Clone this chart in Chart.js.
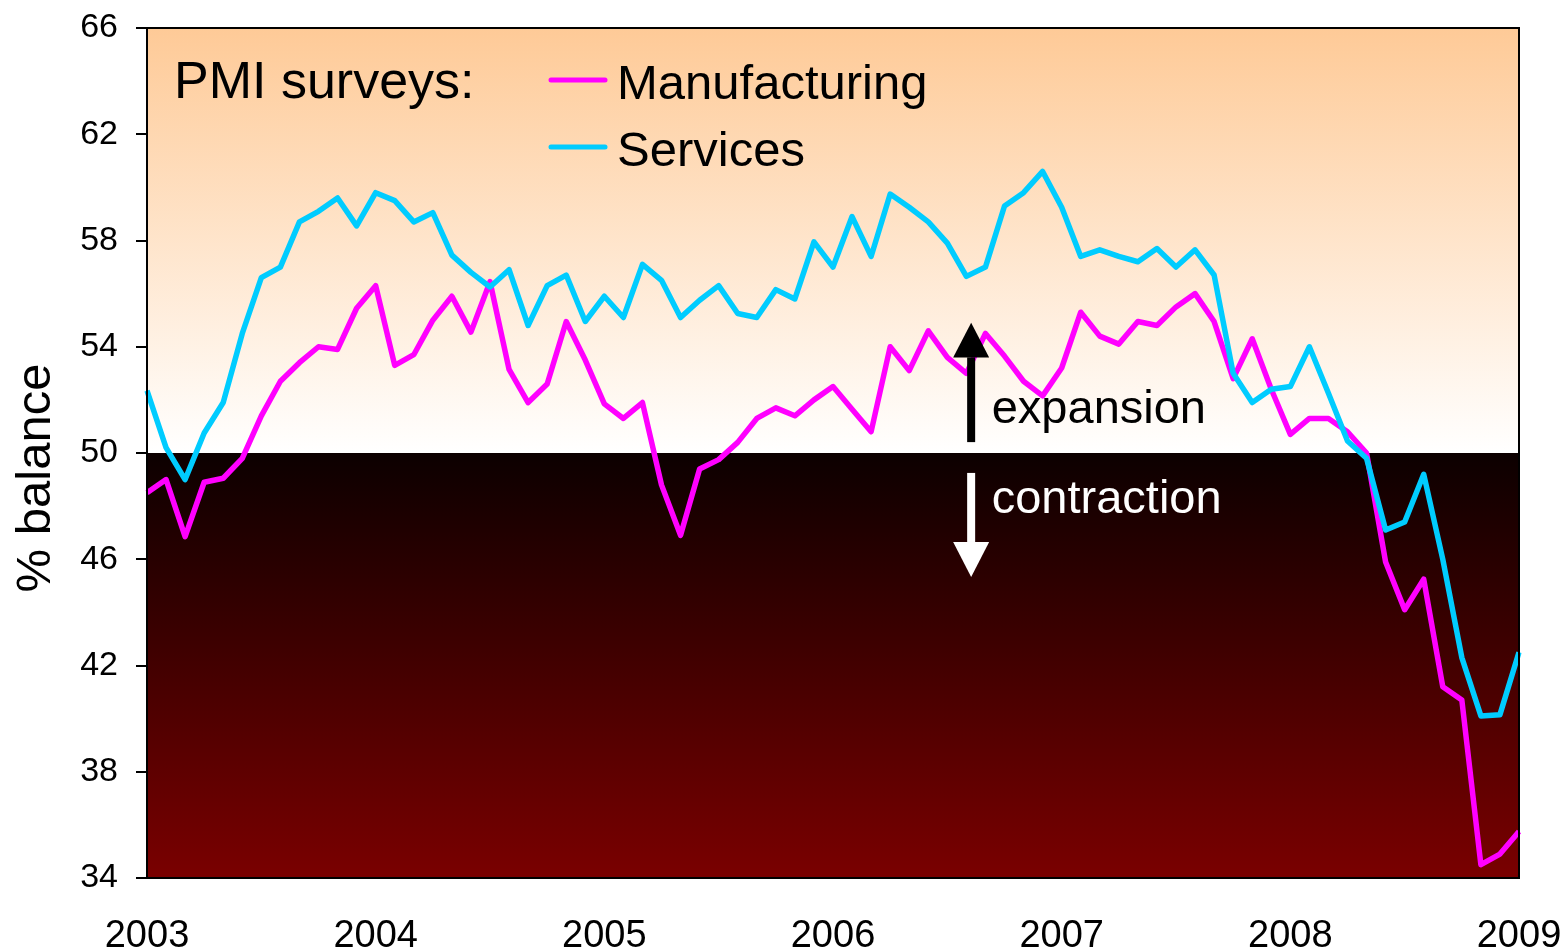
<!DOCTYPE html>
<html>
<head>
<meta charset="utf-8">
<title>PMI surveys</title>
<script src="https://cdn.jsdelivr.net/npm/chart.js@4.4.1/dist/chart.umd.min.js"></script>
<style>
  html, body { margin: 0; padding: 0; background: #fff; }
  #wrap { width: 1565px; height: 952px; }
</style>
</head>
<body>
<div id="wrap"><canvas id="pmi-chart" width="1565" height="952"></canvas></div>
<script>
// monthly categories, Jan 2003 - Jan 2009
const months = [
  '2003-01','2003-02','2003-03','2003-04','2003-05','2003-06','2003-07','2003-08','2003-09','2003-10','2003-11','2003-12',
  '2004-01','2004-02','2004-03','2004-04','2004-05','2004-06','2004-07','2004-08','2004-09','2004-10','2004-11','2004-12',
  '2005-01','2005-02','2005-03','2005-04','2005-05','2005-06','2005-07','2005-08','2005-09','2005-10','2005-11','2005-12',
  '2006-01','2006-02','2006-03','2006-04','2006-05','2006-06','2006-07','2006-08','2006-09','2006-10','2006-11','2006-12',
  '2007-01','2007-02','2007-03','2007-04','2007-05','2007-06','2007-07','2007-08','2007-09','2007-10','2007-11','2007-12',
  '2008-01','2008-02','2008-03','2008-04','2008-05','2008-06','2008-07','2008-08','2008-09','2008-10','2008-11','2008-12',
  '2009-01'
];

const manufacturing = [
  48.5, 49.0, 46.85, 48.9, 49.05, 49.8, 51.4, 52.7, 53.4, 54.0, 53.9, 55.45,
  56.3, 53.3, 53.7, 55.0, 55.9, 54.55, 56.45, 53.15, 51.9, 52.6, 54.95, 53.5,
  51.85, 51.3, 51.9, 48.8, 46.9, 49.4, 49.75, 50.4, 51.3, 51.7, 51.4, 52.0,
  52.5, 51.65, 50.8, 54.0, 53.1, 54.6, 53.6, 53.0, 54.5, 53.65, 52.7, 52.15,
  53.2, 55.3, 54.4, 54.1, 54.95, 54.8, 55.5, 56.0, 54.95, 52.8, 54.3, 52.4,
  50.7, 51.3, 51.3, 50.8, 50.0, 45.9, 44.1, 45.25, 41.2, 40.7, 34.5, 34.9,
  35.75
];

const services = [
  52.35, 50.2, 49.0, 50.75, 51.9, 54.5, 56.6, 57.0, 58.7, 59.1, 59.6, 58.55,
  59.8, 59.5, 58.7, 59.05, 57.45, 56.8, 56.25, 56.9, 54.8, 56.3, 56.7, 54.95,
  55.9, 55.1, 57.1, 56.5, 55.1, 55.75, 56.3, 55.25, 55.1, 56.15, 55.8, 57.95,
  57.0, 58.9, 57.4, 59.75, 59.25, 58.7, 57.9, 56.65, 57.0, 59.3, 59.8, 60.6,
  59.25, 57.4, 57.65, 57.4, 57.2, 57.7, 57.0, 57.65, 56.7, 53.0, 51.9, 52.4,
  52.5, 54.0, 52.25, 50.45, 49.8, 47.1, 47.4, 49.2, 46.0, 42.3, 40.1, 40.15,
  42.5
];

const yTicks = [34, 38, 42, 46, 50, 54, 58, 62, 66];
const threshold = 50;

const FONT = '"Liberation Sans", Arial, Helvetica, sans-serif';

// 背景：50以上扩张（浅橙渐变），50以下收缩（深红渐变）
const zonesPlugin = {
  id: 'zones',
  beforeDraw(chart) {
    const { ctx, chartArea: a, scales: { y } } = chart;
    const yMid = y.getPixelForValue(threshold);
    ctx.save();
    let g = ctx.createLinearGradient(0, a.top, 0, yMid);
    g.addColorStop(0, '#FECA97');
    g.addColorStop(1, '#FFFFFF');
    ctx.fillStyle = g;
    ctx.fillRect(a.left, a.top, a.right - a.left, yMid - a.top);
    g = ctx.createLinearGradient(0, yMid, 0, a.bottom);
    g.addColorStop(0, '#0C0000');
    g.addColorStop(1, '#7A0000');
    ctx.fillStyle = g;
    ctx.fillRect(a.left, yMid, a.right - a.left, a.bottom - yMid);
    ctx.restore();
  },
  afterDatasetsDraw(chart) {
    const { ctx, chartArea: a } = chart;
    ctx.save();
    ctx.strokeStyle = '#000';
    ctx.lineWidth = 2;
    ctx.strokeRect(a.left, a.top, a.right - a.left, a.bottom - a.top);
    ctx.restore();
  }
};

// 注释：箭头和文字
const notesPlugin = {
  id: 'notes',
  afterDatasetsDraw(chart) {
    const { ctx, scales: { x, y } } = chart;
    const ax = x.getPixelForValue(43.25);
    ctx.save();

    function arrow(fromV, baseV, tipV, color) {
      const y0 = y.getPixelForValue(fromV);
      const yb = y.getPixelForValue(baseV);
      const yt = y.getPixelForValue(tipV);
      ctx.fillStyle = color;
      ctx.fillRect(ax - 4, Math.min(y0, yb), 8, Math.abs(yb - y0));
      ctx.beginPath();
      ctx.moveTo(ax - 18, yb);
      ctx.lineTo(ax + 18, yb);
      ctx.lineTo(ax, yt);
      ctx.closePath();
      ctx.fill();
    }
    arrow(50.41, 53.6, 54.9, '#000');
    arrow(49.25, 46.65, 45.33, '#fff');

    ctx.font = '47px ' + FONT;
    ctx.textAlign = 'left';
    ctx.textBaseline = 'alphabetic';
    const tx = x.getPixelForValue(44.33);
    ctx.fillStyle = '#000';
    ctx.fillText('expansion', tx, y.getPixelForValue(51.13));
    ctx.fillStyle = '#fff';
    ctx.fillText('contraction', tx, y.getPixelForValue(47.74));
    ctx.restore();
  }
};

// 图例和标题（画在图表区域内）
const legendPlugin = {
  id: 'insideLegend',
  afterDatasetsDraw(chart) {
    const { ctx, chartArea: a } = chart;
    ctx.save();
    ctx.fillStyle = '#000';
    ctx.textAlign = 'left';
    ctx.textBaseline = 'alphabetic';
    ctx.font = '52px ' + FONT;
    ctx.fillText('PMI surveys:', a.left + 27, a.top + 70);

    ctx.font = '49px ' + FONT;
    const rows = [0, 1];
    rows.forEach(i => {
      const ds = chart.data.datasets[i];
      const cy = a.top + 52 + i * 67;
      ctx.strokeStyle = ds.borderColor;
      ctx.lineWidth = 5;
      ctx.lineCap = 'round';
      ctx.beginPath();
      ctx.moveTo(a.left + 404, cy);
      ctx.lineTo(a.left + 458, cy);
      ctx.stroke();
      ctx.fillStyle = '#000';
      ctx.fillText(ds.label, a.left + 470, cy + 19);
    });

    // y 轴标题
    ctx.translate(36, 478);
    ctx.rotate(-Math.PI / 2);
    ctx.textAlign = 'center';
    ctx.textBaseline = 'middle';
    ctx.font = '49px ' + FONT;
    ctx.fillText('% balance', 0, 0);
    ctx.restore();
  }
};

const ctx = document.getElementById('pmi-chart').getContext('2d');
new Chart(ctx, {
  type: 'line',
  data: {
    labels: months,
    datasets: [{
      label: 'Manufacturing',
      data: manufacturing,
      borderColor: '#FF00FF',
      borderWidth: 5.5,
      pointRadius: 0,
      tension: 0,
      fill: false,
      borderJoinStyle: 'round',
      order: 1
    }, {
      label: 'Services',
      data: services,
      borderColor: '#00CCFF',
      borderWidth: 5.5,
      pointRadius: 0,
      tension: 0,
      fill: false,
      borderJoinStyle: 'round',
      order: 0
    }]
  },
  options: {
    responsive: false,
    animation: false,
    devicePixelRatio: 1,
    layout: {
      padding: { top: 28, right: 46, left: 0, bottom: 0 }
    },
    plugins: {
      legend: { display: false },
      tooltip: { enabled: false },
      title: { display: false }
    },
    scales: {
      x: {
        offset: false,
        grid: { display: false, drawTicks: false },
        border: { display: false },
        ticks: {
          autoSkip: false,
          maxRotation: 0,
          padding: 36,
          color: '#000',
          font: { family: FONT, size: 38 },
          callback: function(value, index) {
            const label = this.getLabelForValue(value);
            return label.endsWith('-01') ? label.slice(0, 4) : null;
          }
        },
        afterFit(scale) {
          scale.height = 74;
          scale.paddingLeft = 0;
          scale.paddingRight = 0;
        }
      },
      y: {
        min: yTicks[0],
        max: yTicks[yTicks.length - 1],
        afterBuildTicks(scale) {
          scale.ticks = yTicks.map(v => ({ value: v }));
        },
        grid: {
          display: true,
          drawOnChartArea: false,
          drawTicks: true,
          tickLength: 11,
          color: '#000',
          lineWidth: 2
        },
        border: { display: true, color: '#000', width: 2 },
        ticks: {
          padding: 18,
          color: '#000',
          font: { family: FONT, size: 34 }
        },
        afterFit(scale) {
          scale.width = 147;
          scale.paddingTop = 0;
          scale.paddingBottom = 0;
        }
      }
    }
  },
  plugins: [zonesPlugin, notesPlugin, legendPlugin]
});
</script>
</body>
</html>
